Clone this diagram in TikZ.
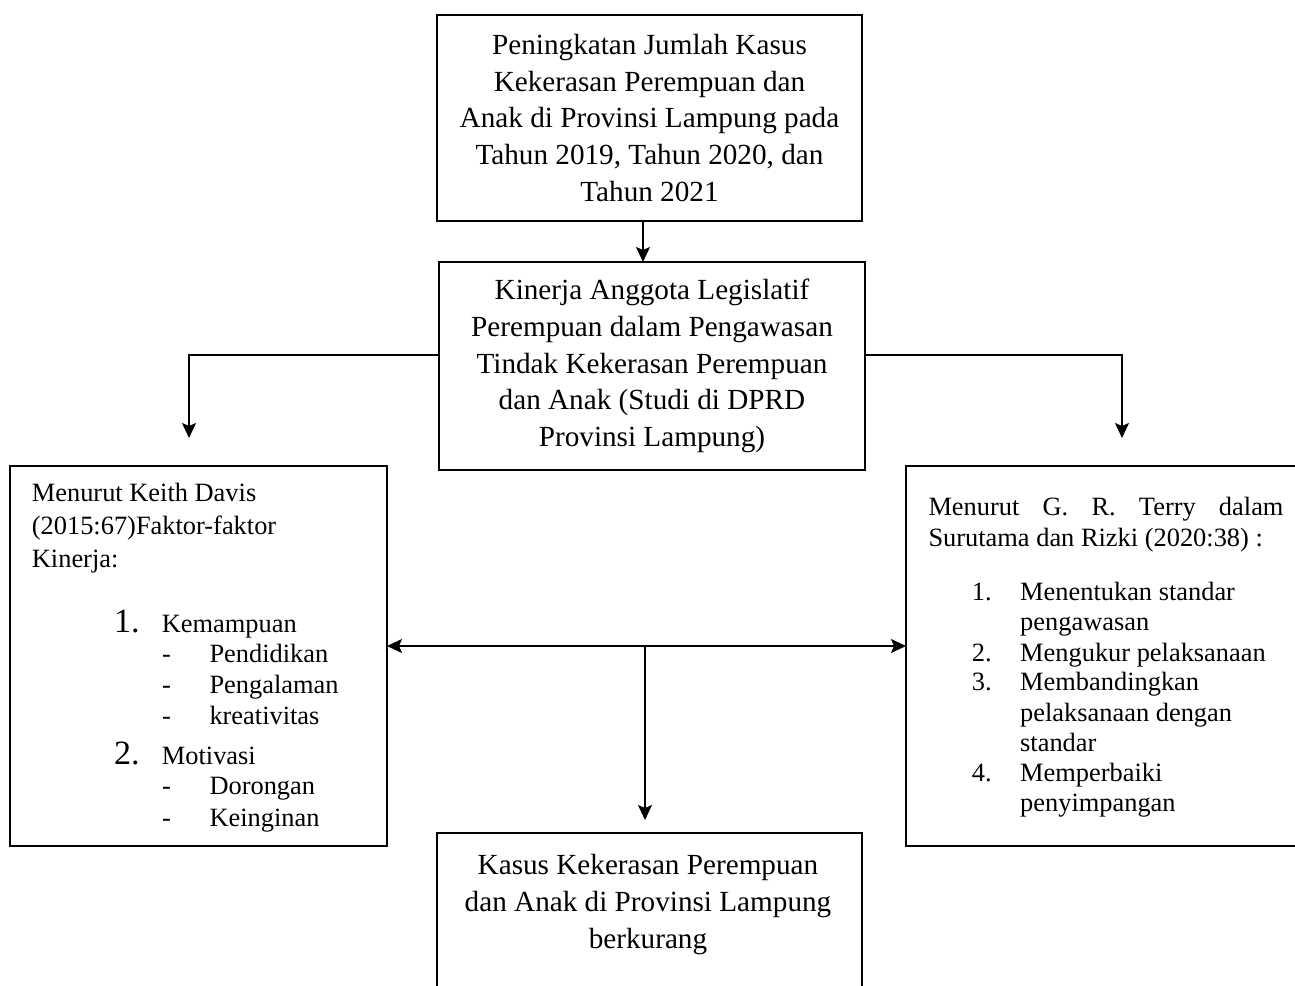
\documentclass[tikz,border=0pt]{standalone}
\usepackage{fontspec}
\setmainfont{Liberation Serif}
\usetikzlibrary{arrows.meta}
\begin{document}
\begin{tikzpicture}[x=1pt,y=-1pt,
  box/.style={draw,line width=2pt,inner sep=0pt,outer sep=0pt},
  bigtxt/.style={font=\fontsize{29.2}{36.7}\selectfont,align=center},
  sm/.style={font=\fontsize{26.4}{31}\selectfont,inner sep=0pt,anchor=base west},
  num/.style={font=\fontsize{34}{36}\selectfont,inner sep=0pt,anchor=base west},
  conn/.style={line width=1.5pt},
  arr/.style={conn,-{Stealth[length=15pt,width=14pt,inset=3pt]}},
  darr/.style={conn,{Stealth[length=15pt,width=14pt,inset=3pt]}-{Stealth[length=15pt,width=14pt,inset=3pt]}}]
\useasboundingbox (0,0) rectangle (1295,985);
% top box
\node[box,bigtxt,minimum width=425pt,minimum height=206pt] (top) at (649.5,118)
 {Peningkatan Jumlah Kasus\\Kekerasan Perempuan dan\\Anak di Provinsi Lampung pada\\Tahun 2019, Tahun 2020, dan\\Tahun 2021};
% middle box
\node[box,bigtxt,minimum width=426pt,minimum height=208pt] (mid) at (652,366)
 {Kinerja Anggota Legislatif\\Perempuan dalam Pengawasan\\Tindak Kekerasan Perempuan\\dan Anak (Studi di DPRD\\Provinsi Lampung)};
% left box
\node[box,minimum width=377pt,minimum height=380pt] (lbox) at (198.5,656) {};
\node[sm] (l1) at (31.7,501.7) {Menurut Keith Davis};
\node[sm] (l2) at (31.7,534) {(2015:67)Faktor-faktor};
\node[sm] (l3) at (31.7,567) {Kinerja:};
\node[num] (ln1) at (114,632.7) {1.};
\node[sm] (la) at (161.7,632.7) {Kemampuan};
\node[sm] (ld1) at (162,662.3) {-};
\node[sm] (la1) at (209.3,662.3) {Pendidikan};
\node[sm] (ld2) at (162,693) {-};
\node[sm] (la2) at (209.3,693) {Pengalaman};
\node[sm] (ld3) at (162,724) {-};
\node[sm] (la3) at (209.3,724) {kreativitas};
\node[num] (ln2) at (114,764.3) {2.};
\node[sm] (lb) at (161.7,764.3) {Motivasi};
\node[sm] (ld4) at (162,794.3) {-};
\node[sm] (lb1) at (209.3,794.3) {Dorongan};
\node[sm] (ld5) at (162,826) {-};
\node[sm] (lb2) at (209.3,826) {Keinginan};
% right box
\node[box,minimum width=404pt,minimum height=380pt] (rbox) at (1108,656) {};
\node[sm] (r1) at (928.3,515) {\makebox[355pt][s]{Menurut\hfill G.\hfill R.\hfill Terry\hfill dalam}};
\node[sm] (r2) at (928.3,546.7) {Surutama dan Rizki (2020:38) :};
\node[sm] (rn1) at (971.7,600) {1.};
\node[sm] (ra) at (1020,600) {Menentukan standar};
\node[sm] (ra2) at (1020,630) {pengawasan};
\node[sm] (rn2) at (971.7,661.7) {2.};
\node[sm] (rb) at (1020,661.7) {Mengukur pelaksanaan};
\node[sm] (rn3) at (971.7,690) {3.};
\node[sm] (rc) at (1020,690) {Membandingkan};
\node[sm] (rc2) at (1020,721.7) {pelaksanaan dengan};
\node[sm] (rc3) at (1020,751.7) {standar};
\node[sm] (rn4) at (971.7,781.7) {4.};
\node[sm] (rd) at (1020,781.7) {Memperbaiki};
\node[sm] (rd2) at (1020,811.7) {penyimpangan};
% bottom box
\node[box,minimum width=425pt,minimum height=200pt,anchor=north] (bot) at (649.5,833) {};
\node[bigtxt,anchor=base,inner sep=0pt] (bottxt) at (648,948)
 {Kasus Kekerasan Perempuan\\dan Anak di Provinsi Lampung\\berkurang};
% connectors
\coordinate (ax) at (643,0);
\coordinate (lt) at (189,438);
\coordinate (rt) at (1122,438);
\coordinate (jn) at (645,646);
\coordinate (bt) at (645,820);
\draw[arr] (top.south -| ax) -- (mid.north -| ax);
\draw[arr] ([yshift=11pt]mid.west) -| (lt);
\draw[arr] ([yshift=11pt]mid.east) -| (rt);
\draw[darr] ([yshift=10pt]lbox.east) -- ([yshift=10pt]rbox.west);
\draw[arr] (jn) -- (bt);
\end{tikzpicture}
\end{document}
